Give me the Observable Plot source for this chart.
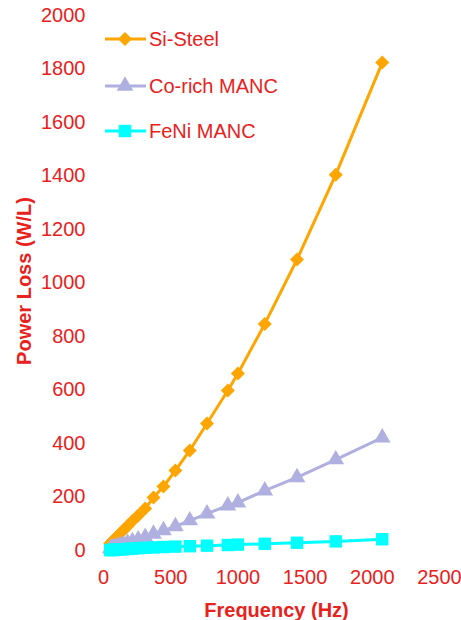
<!DOCTYPE html>
<html>
<head>
<meta charset="utf-8">
<script src="https://cdn.jsdelivr.net/npm/d3@7"></script>
<script src="https://cdn.jsdelivr.net/npm/@observablehq/plot@0.6"></script>
<style>
  html, body { margin: 0; padding: 0; background: #fff; }
  #wrap { position: relative; width: 461px; height: 620px; font-family: "Liberation Sans", Arial, Helvetica, sans-serif; }
  #legend { position: absolute; left: 0; top: 0; }
</style>
</head>
<body>
<div id="wrap"></div>
<script>
const freq    = [50, 60, 72, 86, 104, 124, 149, 179, 215, 258, 310, 372, 446, 535, 642, 770, 925, 1000, 1200, 1440, 1728, 2074];
const siSteel = [26, 31, 37, 44, 53, 64, 77, 92, 110, 131, 157, 198, 239, 299, 374, 475, 598, 662, 847, 1088, 1405, 1824];
const coRich  = [7, 8.5, 10.5, 13, 15.5, 19, 23, 28, 34, 41, 50, 62, 75, 90, 112, 138, 168, 179, 224, 273, 340, 422];
const feNi    = [1.5, 1.8, 2.2, 2.7, 3.3, 4, 4.8, 5.8, 7, 8.5, 10, 11.5, 13, 14.5, 16, 18, 20.5, 22, 25, 29, 34, 42];
const seriesNames = ["Si-Steel", "Co-rich MANC", "FeNi MANC"];
const xTicks = [0, 500, 1000, 1500, 2000, 2500];
const yTicks = [0, 200, 400, 600, 800, 1000, 1200, 1400, 1600, 1800, 2000];

const colors = {"Si-Steel": "#ffa500", "Co-rich MANC": "#b0b0e0", "FeNi MANC": "#00ffff"};
const symbols = {"Si-Steel": "diamond2", "Co-rich MANC": "triangle", "FeNi MANC": "square"};
const radii = {"Si-Steel": 6.3, "Co-rich MANC": 6.2, "FeNi MANC": 7.0};
const red = "#e8211c";
const font = '"Liberation Sans", Arial, Helvetica, sans-serif';

const values = [siSteel, coRich, feNi];
const data = seriesNames.flatMap((s, i) => freq.map((f, j) => ({series: s, f, p: values[i][j]})));

const marks = [];
for (const s of seriesNames) {
  const d = data.filter(r => r.series === s);
  marks.push(Plot.line(d, {x: "f", y: "p", stroke: colors[s], strokeWidth: 3}));
  marks.push(Plot.dot(d, {x: "f", y: "p", fill: colors[s], stroke: "none", symbol: symbols[s], r: radii[s]}));
}

const chart = Plot.plot({
  width: 461,
  height: 620,
  marginLeft: 103,
  marginRight: 22,
  marginTop: 15,
  marginBottom: 70,
  style: {fontFamily: font, fontSize: "20px", color: red, background: "#fff", overflow: "visible"},
  x: {domain: [0, 2500]},
  y: {domain: [0, 2000]},
  marks: [
    Plot.axisX({ticks: xTicks, tickSize: 0, tickPadding: 19, tickFormat: d => String(d), label: null, fill: red, fontSize: 20}),
    Plot.axisY({ticks: yTicks, tickSize: 0, tickPadding: 18, tickFormat: d => String(d), label: null, fill: red, fontSize: 20}),
    Plot.text(["Frequency (Hz)"], {frameAnchor: "bottom", textAnchor: "middle", lineAnchor: "bottom", dy: 66, dx: 5, fontWeight: "bold", fontSize: 20, fill: red}),
    Plot.text(["Power Loss (W/L)"], {frameAnchor: "left", textAnchor: "middle", lineAnchor: "middle", rotate: -90, dx: -79, dy: -2, fontWeight: "bold", fontSize: 20, fill: red}),
    ...marks
  ]
});
document.getElementById("wrap").appendChild(chart);

// legend overlay
const lg = d3.select("#wrap").append("svg").attr("id", "legend").attr("width", 461).attr("height", 160);
const ys = [39, 86, 131];
seriesNames.forEach((s, i) => {
  const g = lg.append("g").attr("transform", `translate(0,${ys[i]})`);
  g.append("line").attr("x1", 105).attr("x2", 146).attr("stroke", colors[s]).attr("stroke-width", 3);
  const sym = {diamond2: d3.symbolDiamond2, triangle: d3.symbolTriangle, square: d3.symbolSquare}[symbols[s]];
  g.append("path").attr("transform", "translate(125,0)").attr("d", d3.symbol(sym, Math.PI * radii[s] * radii[s])()).attr("fill", colors[s]);
  g.append("text").attr("x", 149).attr("y", 0).attr("dy", "0.35em").attr("fill", red)
    .attr("font-family", font).attr("font-size", 20).text(s);
});
</script>
</body>
</html>
